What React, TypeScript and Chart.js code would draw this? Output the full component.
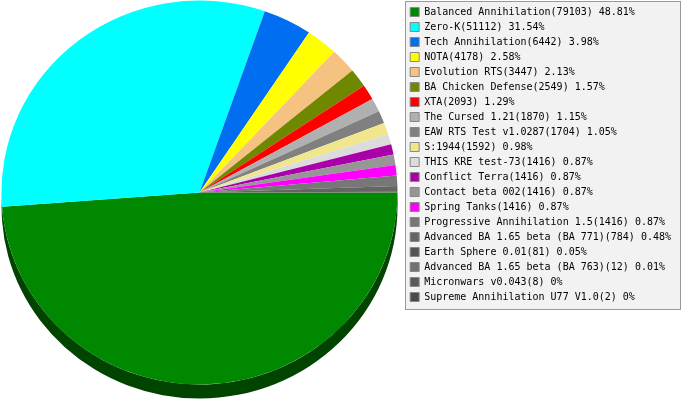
import { useEffect, useRef } from "react";
import { Chart, registerables } from "chart.js";

Chart.register(...registerables);

const categories = [
  "Balanced Annihilation",
  "Zero-K",
  "Tech Annihilation",
  "NOTA",
  "Evolution RTS",
  "BA Chicken Defense",
  "XTA",
  "The Cursed 1.21",
  "EAW RTS Test v1.0287",
  "S:1944",
  "THIS KRE test-73",
  "Conflict Terra",
  "Contact beta 002",
  "Spring Tanks",
  "Progressive Annihilation 1.5",
  "Advanced BA 1.65 beta (BA 771)",
  "Earth Sphere 0.01",
  "Advanced BA 1.65 beta (BA 763)",
  "Micronwars v0.043",
  "Supreme Annihilation U77 V1.0",
];

const values = [
  79103, 51112, 6442, 4178, 3447, 2549, 2093, 1870, 1704, 1592, 1416, 1416,
  1416, 1416, 1416, 784, 81, 12, 8, 2,
];

const colors = [
  "#008800",
  "#00ffff",
  "#006ef0",
  "#ffff00",
  "#f5c282",
  "#708800",
  "#ff0000",
  "#b0b0b0",
  "#808080",
  "#f0e68c",
  "#dcdcdc",
  "#aa00aa",
  "#969696",
  "#ff00ff",
  "#777777",
  "#656565",
  "#555555",
  "#727272",
  "#5a5a5a",
  "#4a4a4a",
];

const total = values.reduce((a, b) => a + b, 0);
const pctLabels = values.map((v) => `${Number(((v / total) * 100).toFixed(2))}%`);
const legendLabels = categories.map((c, i) => `${c}(${values[i]}) ${pctLabels[i]}`);

function darken(hex: string, f: number) {
  const n = parseInt(hex.slice(1), 16);
  const r = Math.round(((n >> 16) & 255) * f);
  const g = Math.round(((n >> 8) & 255) * f);
  const b = Math.round((n & 255) * f);
  return `rgb(${r},${g},${b})`;
}
const sideColors = colors.map((c) => darken(c, 0.5));

// ellipse geometry of the 3D pie
const CX = 199.5;
const CY = 192.5;
const RX = 198;
const RY = 192;
const DEPTH = 14;

const pie3d = {
  id: "pie3d",
  beforeDatasetsDraw(chart: any) {
    const meta = chart.getDatasetMeta(0);
    const arcs = meta.data as any[];
    const ctx = chart.ctx as CanvasRenderingContext2D;
    ctx.save();
    if (!arcs.length) return;
    const { x, y, outerRadius: R } = arcs[0].getProps(["x", "y", "outerRadius"], true);
    const sx = RX / R;
    const sy = RY / R;
    ctx.translate(CX, CY);
    ctx.scale(sx, sy);
    ctx.translate(-x, -y);
    const d = DEPTH / sy;
    arcs.forEach((arc: any, i: number) => {
      const { startAngle, endAngle } = arc.getProps(["startAngle", "endAngle"], true);
      for (const base of [-2 * Math.PI, 0, 2 * Math.PI]) {
        const a1 = Math.max(startAngle, base);
        const a2 = Math.min(endAngle, base + Math.PI);
        if (a2 > a1) {
          ctx.beginPath();
          ctx.arc(x, y + d, R, a1, a2);
          ctx.arc(x, y, R, a2, a1, true);
          ctx.closePath();
          ctx.fillStyle = sideColors[i];
          ctx.fill();
        }
      }
    });
  },
  afterDatasetsDraw(chart: any) {
    chart.ctx.restore();
  },
};

const legendFrame = {
  id: "legendFrame",
  beforeDraw(chart: any) {
    const lg = chart.legend;
    if (!lg) return;
    const ctx = chart.ctx as CanvasRenderingContext2D;
    const h = lg.columnSizes && lg.columnSizes[0] ? lg.columnSizes[0].height : 300;
    const top = Math.round(lg.top) - 1;
    const bottom = Math.round(lg.top) + 5 + h + 3;
    const left = Math.round(lg.left);
    const right = Math.round(lg.left + lg.width);
    ctx.save();
    ctx.fillStyle = "#f2f2f2";
    ctx.fillRect(left, top, right - left, bottom - top);
    ctx.strokeStyle = "#999999";
    ctx.lineWidth = 1;
    ctx.strokeRect(left + 0.5, top + 0.5, right - left - 1, bottom - top - 1);
    ctx.restore();
  },
};

export default function App() {
  const ref = useRef<HTMLCanvasElement | null>(null);
  useEffect(() => {
    if (!ref.current) return;
    const chart = new Chart(ref.current, {
      type: "pie",
      data: {
        labels: legendLabels,
        datasets: [
          {
            data: values,
            backgroundColor: colors,
            borderWidth: 0,
            clip: false as any,
          },
        ],
      },
      options: {
        responsive: false,
        animation: false,
        devicePixelRatio: 1,
        events: [],
        rotation: 90,
        layout: { padding: { top: 2, right: 2, left: 0, bottom: 12 } },
        plugins: {
          tooltip: { enabled: false },
          legend: {
            position: "right",
            align: "start",
            labels: {
              boxWidth: 9,
              boxHeight: 9,
              padding: 5,
              color: "#000000",
              font: { family: "'DejaVu Sans Mono', monospace", size: 10 },
              generateLabels: (c: any) => {
                const base = (Chart as any).overrides.pie.plugins.legend.labels.generateLabels(c);
                return base.map((it: any) => ({ ...it, strokeStyle: "#888888", lineWidth: 1 }));
              },
            },
          },
        },
      },
      plugins: [legendFrame, pie3d],
    });
    return () => chart.destroy();
  }, []);
  return (
    <div style={{ position: "fixed", left: 0, top: 0, width: 683, height: 400, background: "#ffffff" }}>
      <canvas ref={ref} width={683} height={400} style={{ display: "block" }} />
    </div>
  );
}
